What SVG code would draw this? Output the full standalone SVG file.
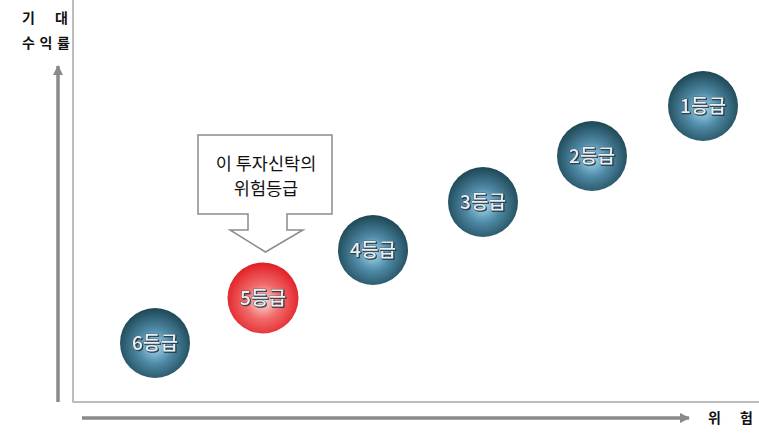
<svg xmlns="http://www.w3.org/2000/svg" width="759" height="436" viewBox="0 0 759 436">
<style>
.lbl{font-family:"Noto Sans CJK KR","Noto Sans",sans-serif;font-size:14px;fill:#111;font-weight:bold}
.call{font-family:"Noto Sans CJK KR","Noto Sans",sans-serif;font-size:17.5px;fill:#111}
.grade{font-family:"Noto Sans CJK KR","Noto Sans",sans-serif;font-size:19px;font-weight:500;fill:#e9eef2;stroke:#33434d;stroke-width:0.7;paint-order:stroke;text-anchor:middle}
.frame{fill:none;stroke:#a8a8a8;stroke-width:1.5}
.axis{stroke:#8a8a8a;stroke-width:3.5;fill:none}
</style>
<defs>
<radialGradient id="blue" cx="50%" cy="55%" r="55%">
<stop offset="0" stop-color="#a6d8f4"/>
<stop offset="0.45" stop-color="#4f8aa6"/>
<stop offset="1" stop-color="#1d4654"/>
</radialGradient>
<radialGradient id="red" cx="50%" cy="55%" r="55%">
<stop offset="0" stop-color="#fbe0e0"/>
<stop offset="0.45" stop-color="#f26a6a"/>
<stop offset="1" stop-color="#e01e24"/>
</radialGradient>
<marker id="ah" viewBox="0 0 10 10" refX="9" refY="5" markerWidth="3" markerHeight="3" orient="auto" markerUnits="strokeWidth">
<path d="M0,0 L10,5 L0,10 z" fill="#8a8a8a"/>
</marker>
<filter id="sh" x="-20%" y="-20%" width="140%" height="140%">
<feDropShadow dx="1" dy="1" stdDeviation="0.6" flood-color="#1a2a33" flood-opacity="0.8"/>
</filter>
</defs>
<g id="frame">
<polyline class="frame" points="73,0 73,402 759,402"/>
</g>
<g id="connectors">
<line class="axis" x1="58" y1="402" x2="58" y2="66" marker-end="url(#ah)"/>
<line class="axis" x1="82" y1="418" x2="689" y2="418" marker-end="url(#ah)"/>
</g>
<g id="ylabel">
<text class="lbl" x="22" y="23">기</text>
<text class="lbl" x="55" y="23">대</text>
<text class="lbl" x="22" y="48" textLength="48">수익률</text>
</g>
<g id="xlabel">
<text class="lbl" x="708" y="423">위</text>
<text class="lbl" x="740" y="423">험</text>
</g>
<g id="callout">
<path d="M198,135 H332 V214 H287 V230 H303 L265.5,252 L230,230 H248 V214 H198 Z" fill="#fff" stroke="#8c8c8c" stroke-width="1.5"/>
<text class="call" x="266" y="170" text-anchor="middle">이 투자신탁의</text>
<text class="call" x="266" y="195" text-anchor="middle">위험등급</text>
</g>
<g id="g6"><circle cx="155" cy="343" r="35" fill="url(#blue)"/><text class="grade" x="155" y="350" filter="url(#sh)">6등급</text></g>
<g id="g5"><circle cx="263" cy="298" r="35.5" fill="url(#red)"/><text class="grade" x="263" y="305" filter="url(#sh)">5등급</text></g>
<g id="g4"><circle cx="373" cy="250" r="35" fill="url(#blue)"/><text class="grade" x="373" y="257" filter="url(#sh)">4등급</text></g>
<g id="g3"><circle cx="483" cy="202" r="35" fill="url(#blue)"/><text class="grade" x="483" y="209" filter="url(#sh)">3등급</text></g>
<g id="g2"><circle cx="592" cy="156" r="35" fill="url(#blue)"/><text class="grade" x="592" y="163" filter="url(#sh)">2등급</text></g>
<g id="g1"><circle cx="703" cy="106" r="35" fill="url(#blue)"/><text class="grade" x="703" y="113" filter="url(#sh)">1등급</text></g>
</svg>
